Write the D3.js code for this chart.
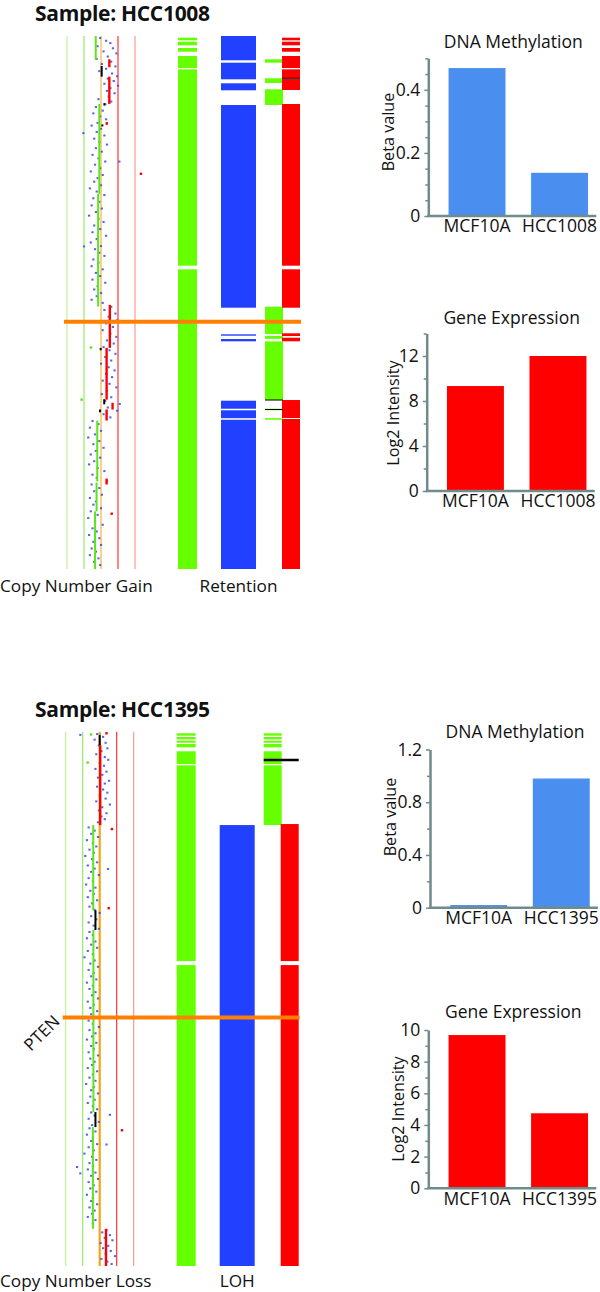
<!DOCTYPE html>
<html><head><meta charset="utf-8">
<script src="https://cdn.jsdelivr.net/npm/d3@7"></script>
<style>body{margin:0;background:#fff}svg{display:block}text{font-family:"Open Sans","Noto Sans",sans-serif;fill:#111}</style>
</head><body><svg id="c" width="600" height="1292"></svg>
<script>
// ---------------- DATA ----------------
const sampleNames = ["HCC1008", "HCC1395"];
const cnLevels = [0, 1, 2, 3, 4];
const chromLength = 135; // Mb (relative position along the chromosome)

// copy-number segments: [start, end, copyNumber, type]
const segs1008 = [
  [0, 6.1, 1.69, "loss"], [5.9, 7.9, 2.49, "gain"], [7.6, 10.3, 2.04, "neutral"],
  [10.3, 17.2, 2.49, "gain"], [17.0, 17.6, 2.2, "neutral"], [22.4, 22.9, 2.08, "neutral"],
  [21.8, 22.5, 2.34, "gain"], [17.2, 40, 1.9, "loss"], [40, 68.5, 1.83, "loss"],
  [68.1, 79.0, 2.52, "gain"], [79.0, 79.6, 1.98, "neutral"], [79.0, 92.1, 2.33, "gain"],
  [92.0, 93.3, 2.19, "neutral"], [92.9, 94.6, 2.68, "gain"], [94.6, 95.3, 1.94, "neutral"],
  [94.6, 97.4, 2.33, "gain"], [97.4, 112.8, 1.78, "loss"], [112.1, 113.6, 2.33, "gain"],
  [113.1, 120.4, 1.74, "loss"], [120.4, 135, 1.65, "loss"]
];
const segs1395 = [
  [0.8, 3.4, 2.0, "neutral"], [3.4, 23.6, 2.03, "gain"], [23.6, 45.1, 1.62, "loss"],
  [45.1, 50.1, 1.75, "neutral"], [50.1, 96.1, 1.63, "loss"], [96.1, 99.9, 1.75, "neutral"],
  [99.9, 125.6, 1.6, "loss"], [125.6, 135, 2.37, "gain"]
];

// probe-level copy-number dots: [position, copyNumber]
const dots1008 = [
  [0.5,1.95],[1.2,2.3],[1.8,2.55],[2.6,1.8],[3.1,2.7],[3.9,2.15],[4.4,2.9],[5.2,2.4],[5.8,1.75],[6.5,2.6],
  [7.1,2.05],[7.7,2.85],[8.3,2.3],[8.9,1.9],[9.5,2.65],[10.2,2.95],[10.8,2.4],[11.4,2.75],[12.1,2.2],[12.6,3.0],
  [13.2,2.55],[13.9,2.35],[14.5,2.8],[15.3,2.45],[16.0,1.85],[16.6,2.6],[17.3,2.25],
  [18.0,1.7],[18.9,2.1],[19.6,1.55],[20.4,1.95],[21.1,2.3],[22.0,1.8],[22.7,1.45],[23.5,2.0],[24.3,1.75],[25.2,2.2],
  [26.0,1.6],[26.8,1.9],[27.5,2.35],[28.4,1.7],[29.3,2.05],[30.1,1.5],[31.0,1.85],[31.8,2.25],[32.6,1.65],[33.5,1.95],
  [34.3,1.4],[35.2,2.1],[36.0,1.8],[36.9,1.6],[37.8,2.0],[38.6,1.35],[39.4,1.75],[40.3,2.2],[41.1,1.55],[42.0,1.9],
  [42.9,1.45],[43.7,2.05],[44.6,1.7],[45.5,1.3],[46.3,1.85],[47.1,2.15],[48.0,1.6],[48.9,1.95],[49.7,1.5],[50.6,2.3],
  [51.4,1.75],[52.3,1.4],[53.2,2.0],[54.0,1.65],[54.9,1.9],[55.7,2.2],[56.6,1.55],[57.4,1.85],[58.3,1.45],[59.1,2.1],
  [60.0,1.7],[60.8,1.95],[61.7,1.5],[62.5,2.25],[63.4,1.8],[64.2,1.6],[65.1,2.0],[65.9,1.75],[66.8,1.45],[67.6,2.1],
  [68.6,2.6],[69.4,2.2],[70.3,2.85],[71.1,2.45],[72.0,2.95],[72.8,2.3],[73.7,2.7],[74.5,2.1],[75.4,2.55],[76.2,2.9],
  [77.1,2.35],[77.9,2.75],[78.8,2.15],[79.6,2.5],[80.5,2.85],[81.3,2.25],[82.2,2.6],[83.0,2.0],[83.9,2.45],[84.7,2.8],
  [85.6,2.3],[86.4,2.65],[87.3,2.1],[88.1,2.5],[89.0,2.9],[89.8,2.35],[90.7,2.05],[91.5,2.6],[92.4,2.25],[93.2,3.1],
  [94.1,2.4],[94.9,2.95],[95.8,2.15],[96.6,2.55],
  [97.5,1.5],[98.3,1.85],[99.2,1.35],[100.0,2.0],[100.9,1.65],[101.7,1.25],[102.6,1.9],[103.4,1.55],[104.3,2.15],[105.1,1.7],
  [106.0,1.4],[106.8,1.95],[107.7,1.6],[108.5,1.3],[109.4,1.8],[110.2,2.2],[111.1,1.5],[111.9,1.75],[112.8,2.35],[113.6,1.45],
  [114.5,1.9],[115.3,1.6],[116.2,2.05],[117.0,1.35],[117.9,1.7],[118.7,1.55],[119.6,2.0],[120.4,1.4],[121.3,1.8],[122.1,1.25],
  [123.0,1.65],[123.8,2.1],[124.7,1.5],[125.5,1.75],[126.4,1.3],[127.2,1.9],[128.1,1.55],[128.9,2.0],[129.8,1.45],[130.6,1.7],
  [131.5,1.35],[132.3,1.85],[133.2,1.6],[134.0,1.95],
  [24.6,0.96],[53.3,1.0],[31.8,3.08]
];
const dots1395 = [
  [0.6,1.85],[1.3,2.2],[2.0,1.7],[2.8,2.35],[3.5,1.95],[4.2,2.45],[4.9,2.1],[5.7,1.8],[6.4,2.3],[7.1,2.5],
  [7.9,2.0],[8.6,2.25],[9.4,1.75],[10.1,2.4],[10.9,2.15],[11.6,1.9],[12.4,2.55],[13.1,2.3],[13.9,1.85],[14.6,2.2],
  [15.4,2.45],[16.1,2.0],[16.9,2.35],[17.6,1.8],[18.4,2.6],[19.1,2.15],[19.9,1.95],[20.6,2.4],[21.4,2.1],[22.1,2.3],[22.9,1.9],
  [24.2,1.35],[25.0,1.7],[25.8,1.5],[26.6,1.9],[27.4,1.25],[28.2,1.6],[29.0,1.8],[29.8,1.4],[30.6,1.65],[31.4,1.15],
  [32.2,1.55],[33.0,1.85],[33.8,1.3],[34.6,1.7],[35.4,1.5],[36.2,1.95],[37.0,1.35],[37.8,1.6],[38.6,1.2],[39.4,1.75],
  [40.2,1.45],[41.0,1.65],[41.8,1.3],[42.6,1.85],[43.4,1.55],[44.2,1.4],[45.0,1.7],[45.8,2.0],[46.6,1.5],[47.4,1.8],
  [48.2,1.35],[49.0,1.65],[49.8,1.95],[50.6,1.4],[51.4,1.6],[52.2,1.25],[53.0,1.75],[53.8,1.5],[54.6,1.85],[55.4,1.3],
  [56.2,1.6],[57.0,1.1],[57.8,1.7],[58.6,1.45],[59.4,1.9],[60.2,1.35],[61.0,1.65],[61.8,1.5],[62.6,1.8],[63.4,1.25],
  [64.2,1.6],[65.0,1.4],[65.8,1.75],[66.6,1.55],[67.4,1.9],[68.2,1.3],[69.0,1.65],[69.8,1.45],[70.6,1.85],[71.4,1.5],
  [72.2,1.7],[73.0,1.35],[73.8,1.6],[74.6,1.95],[75.4,1.4],[76.2,1.75],[77.0,1.55],[77.8,1.25],[78.6,1.8],[79.4,1.5],
  [80.2,1.65],[81.0,1.35],[81.8,1.9],[82.6,1.45],[83.4,1.7],[84.2,1.55],[85.0,1.3],[85.8,1.85],[86.6,1.6],[87.4,1.4],
  [88.2,1.75],[89.0,1.2],[89.8,1.65],[90.6,1.5],[91.4,1.9],[92.2,1.45],[93.0,1.7],[93.8,1.3],[94.6,1.6],[95.4,1.85],
  [96.2,1.5],[97.0,1.7],[97.8,1.35],[98.6,1.95],[99.4,1.55],[100.2,1.4],[101.0,1.75],[101.8,1.25],[102.6,1.6],[103.4,1.5],
  [104.2,1.85],[105.0,1.35],[105.8,1.65],[106.6,1.1],[107.4,1.55],[108.2,1.8],[109.0,1.4],[109.8,1.6],[110.6,1.3],[111.4,1.75],
  [112.2,1.5],[113.0,1.9],[113.8,1.35],[114.6,1.65],[115.4,1.45],[116.2,1.8],[117.0,1.25],[117.8,1.6],[118.6,1.5],[119.4,1.85],
  [120.2,1.4],[121.0,1.7],[121.8,1.55],[122.6,1.3],[123.4,1.75],[124.2,1.6],
  [125.9,2.4],[126.5,2.15],[127.2,2.6],[127.9,2.3],[128.5,2.75],[129.2,2.05],[129.9,2.5],[130.5,2.2],[131.2,2.65],[131.9,2.35],
  [132.5,2.9],[133.2,2.1],[133.9,2.45],[134.5,2.7],
  [0.8,0.86],[34.7,2.49],[96.8,2.6],[104.3,2.4],[110,0.67],[111.6,0.86]
];
// isolated coloured outlier probes: [position, copyNumber, type]
const outliers1008 = [[34.9, 4.35, "gain"], [121, 2.63, "gain"], [78.9, 1.41, "loss"], [92.1, 0.86, "loss"]];
const outliers1395 = [[0.4, 2.4, "gain"], [24.6, 2.72, "gain"], [44.6, 2.53, "gain"], [100.7, 3.31, "gain"], [0.7, 1.49, "loss"], [7.8, 1.29, "loss"]];

// status tracks: [start, end]
const lossTrack1008 = [[0.43,1.09],[1.44,2.36],[3.04,3.98],[5.07,8.11],[8.44,58.18],[59.09,135]];
const retainTrack1008 = [[0,6.15],[6.76,10.97],[11.98,13.75],[17.48,68.82],[75.56,75.91],[76.75,77.33],[92.37,94.4],[94.8,96.8],[97.2,135]];
const flagTrack1008 = [[5.9,6.76],[10.71,11.9],[13.5,17.48],[68.57,75.5],[75.95,76.7],[77.35,92.2],[94.4,94.8],[96.8,97.2]];
const gainTrack1008 = [[0.43,1.09],[1.44,2.36],[3.04,3.98],[5.07,8.11],[8.44,10.64],[10.89,13.68],[17.22,58.18],[59.09,68.82],[75.3,75.99],[76.42,77.33],[92.2,96.76],[97.01,135]];
const blackMarks1008 = [[10.71, "gain"], [92.2, "flag"], [94.6, "flag"]];

const lossTrack1395 = [[0.4,1.01],[1.34,1.92],[2.28,2.78],[3.11,3.95],[4.95,8.16],[8.49,57.96],[58.97,135]];
const retainTrack1395 = [[23.59,135]];
const flagTrack1395 = [[0.4,1.01],[1.34,1.92],[2.28,2.78],[3.11,3.95],[4.95,8.16],[8.49,23.59]];
const gainTrack1395 = [[23.33,57.96],[58.97,135]];
const blackMarks1395 = [[7.15, "flagToGain"]];

const markerPos1008 = 72.4, markerLabel1008 = "";
const markerPos1395 = 72.2, markerLabel1395 = "PTEN";

const trackLabels1008 = ["Copy Number Gain", "Retention"];
const trackLabels1395 = ["Copy Number Loss", "LOH"];

// bar charts
const barCats1008 = ["MCF10A", "HCC1008"];
const meth1008 = [0.469, 0.137];
const expr1008 = [9.33, 12.0];
const barCats1395 = ["MCF10A", "HCC1395"];
const meth1395 = [0.02, 0.98];
const expr1395 = [9.68, 4.74];

const methTicks1008 = [0, 0.2, 0.4], methMinor1008 = [0.05,0.1,0.15,0.25,0.3,0.35,0.45,0.5];
const exprTicks1008 = [0, 4, 8, 12], exprMinor1008 = [2, 6, 10, 14];
const methTicks1395 = [0, 0.4, 0.8, 1.2], methMinor1395 = [0.2, 0.6, 1.0];
const exprTicks1395 = [0, 2, 4, 6, 8, 10], exprMinor1395 = [1, 3, 5, 7, 9];

// ---------------- DRAW ----------------
const svg = d3.select("#c");
const C = {loss:"#5ee41a", gain:"#ff0000", neutral:"#000000",
  lossBar:"#66ff00", retain:"#2240ff", gainBar:"#ff0000", marker:"#ff8000",
  dot:"#2f4cf0", axis:"#718a8a", meth:"#4a8ff0", expr:"#ff0000"};
const levelColors = ["#b6f290","#8de85e","#f2a516","#ff2020","#ff8c8c"];

const panels = [
  {name:sampleNames[0], top:36, bottom:569, dx:0, titleY:20.5, labelY:591.5,
   segs:segs1008, dots:dots1008, outl:outliers1008, loss:lossTrack1008, retain:retainTrack1008,
   flag:flagTrack1008, gain:gainTrack1008, black:blackMarks1008, marker:markerPos1008,
   mlabel:markerLabel1008, labels:trackLabels1008, midW:1},
  {name:sampleNames[1], top:731.7, bottom:1266, dx:-1.3, titleY:716.7, labelY:1287,
   segs:segs1395, dots:dots1395, outl:outliers1395, loss:lossTrack1395, retain:retainTrack1395,
   flag:flagTrack1395, gain:gainTrack1395, black:blackMarks1395, marker:markerPos1395,
   mlabel:markerLabel1395, labels:trackLabels1395, midW:2.2}
];

panels.forEach(p => {
  const g = svg.append("g").attr("transform", `translate(${p.dx},0)`);
  const y = d3.scaleLinear().domain([0, chromLength]).range([p.top, p.bottom]);
  const x = d3.scaleLinear().domain([0, 4]).range([67, 135]);
  const cols = {loss:[178,197], retain:[221,256], flag:[265,283], gain:[282,300]};

  svg.append("text").attr("x", 35).attr("y", p.titleY)
    .attr("font-weight", 700).attr("font-size", 21).attr("letter-spacing", -0.3).text("Sample: " + p.name);

  // CN reference lines
  g.selectAll(".lvl").data(cnLevels).join("line")
    .attr("x1", d => x(d)).attr("x2", d => x(d)).attr("y1", y(0)).attr("y2", y(chromLength))
    .attr("stroke", (d, i) => levelColors[i]).attr("stroke-width", d => d === 2 ? p.midW : 1.1);

  // probe dots
  g.selectAll(".dot").data(p.dots).join("rect")
    .attr("x", d => x(d[1]) - 1.1).attr("y", d => y(d[0]) - 1)
    .attr("width", 2.2).attr("height", 2).attr("fill", C.dot).attr("opacity", 0.85);
  g.selectAll(".out").data(p.outl).join("rect")
    .attr("x", d => x(d[1]) - 1.2).attr("y", d => y(d[0]) - 1.2)
    .attr("width", 2.4).attr("height", 2.4).attr("fill", d => C[d[2]]);

  // segments
  g.selectAll(".seg").data(p.segs).join("line")
    .attr("x1", d => x(d[2])).attr("x2", d => x(d[2]))
    .attr("y1", d => y(d[0])).attr("y2", d => y(d[1]))
    .attr("stroke", d => C[d[3]]).attr("stroke-width", d => d[3] === "gain" ? 2.4 : 2);

  // status tracks
  const track = (data, col, color) => g.append("g").selectAll("rect").data(data).join("rect")
    .attr("x", cols[col][0]).attr("width", cols[col][1] - cols[col][0])
    .attr("y", d => y(d[0])).attr("height", d => Math.max(0.8, y(d[1]) - y(d[0])))
    .attr("fill", color);
  track(p.loss, "loss", C.lossBar);
  track(p.retain, "retain", C.retain);
  track(p.flag, "flag", C.lossBar);
  track(p.gain, "gain", C.gainBar);

  g.selectAll(".blk").data(p.black).join("line")
    .attr("x1", d => d[1] === "gain" ? cols.gain[0] : cols.flag[0])
    .attr("x2", d => d[1] === "flag" ? cols.flag[1] : cols.gain[1])
    .attr("y1", d => y(d[0])).attr("y2", d => y(d[0]))
    .attr("stroke", "#000").attr("stroke-width", d => d[1] === "flagToGain" ? 2.6 : 1);

  // marker line
  g.append("line").attr("x1", x(0) - 3).attr("x2", cols.gain[1] + 1)
    .attr("y1", y(p.marker)).attr("y2", y(p.marker))
    .attr("stroke", C.marker).attr("stroke-width", 4);
  if (p.mlabel) {
    g.append("text").attr("transform", `translate(${x(0) - 5},${y(p.marker) + 5}) rotate(-45)`)
      .attr("text-anchor", "end").attr("font-size", 17).text(p.mlabel);
  }

  // track labels
  svg.append("text").attr("x", 0).attr("y", p.labelY).attr("font-size", 17.2).text(p.labels[0]);
  svg.append("text").attr("x", (cols.retain[0] + cols.retain[1]) / 2 + p.dx).attr("y", p.labelY)
    .attr("text-anchor", "middle").attr("font-size", 17.2).text(p.labels[1]);
});

// bar charts
function barChart(cfg) {
  const g = svg.append("g");
  const y = d3.scaleLinear().domain(cfg.domain).range([cfg.y0, cfg.y1]);
  const x = d3.scaleBand().domain(cfg.cats).range([cfg.ax + 12, cfg.ax + 168])
    .paddingInner(0.31).paddingOuter(0.1);
  g.selectAll(".bar").data(cfg.vals).join("rect")
    .attr("x", (d, i) => x(cfg.cats[i])).attr("width", x.bandwidth())
    .attr("y", d => y(d)).attr("height", d => y(0) - y(d)).attr("fill", cfg.color);

  const ya = g.append("g").attr("transform", `translate(${cfg.ax},0)`)
    .call(d3.axisLeft(y).tickValues(cfg.major).tickSize(4).tickSizeOuter(0).tickPadding(4)
      .tickFormat(cfg.fmt));
  ya.select(".domain").attr("stroke", C.axis).attr("stroke-width", 2.5);
  ya.selectAll(".tick line").attr("stroke", C.axis).attr("stroke-width", 1.5);
  ya.selectAll(".tick text").attr("font-size", 17.5).attr("font-family", '"Open Sans",sans-serif').attr("fill", "#111");
  const ym = g.append("g").attr("transform", `translate(${cfg.ax},0)`)
    .call(d3.axisLeft(y).tickValues(cfg.minor).tickSize(3).tickFormat(""));
  ym.select(".domain").remove();
  ym.selectAll(".tick line").attr("stroke", C.axis).attr("stroke-width", 1.5);

  g.append("line").attr("x1", cfg.ax - 1).attr("x2", cfg.ax + 168).attr("y1", y(0)).attr("y2", y(0))
    .attr("stroke", C.axis).attr("stroke-width", 2.5);
  const xa = g.append("g").attr("transform", `translate(0,${y(0)})`)
    .call(d3.axisBottom(x).tickSize(0).tickPadding(4));
  xa.select(".domain").remove();
  xa.selectAll(".tick text").attr("font-size", 17.5).attr("font-family", '"Open Sans",sans-serif').attr("fill", "#111");

  g.append("text").attr("x", cfg.ax + 85).attr("y", cfg.titleY).attr("text-anchor", "middle")
    .attr("font-size", 17.5).text(cfg.title);
  g.append("text").attr("transform", `translate(${cfg.ylx},${cfg.ylc}) rotate(-90)`)
    .attr("text-anchor", "middle").attr("font-size", 16.2).text(cfg.ylab);
}
const fmtDec = d => d === 0 ? "0" : d3.format(".1f")(d);
const fmtInt = d3.format("d");
barChart({cats:barCats1008, vals:meth1008, color:C.meth, domain:[0,0.5], major:methTicks1008, minor:methMinor1008,
  fmt:fmtDec, ax:428.3, y0:216, y1:58.3, title:"DNA Methylation", titleY:48.3, ylab:"Beta value", ylx:394, ylc:132});
barChart({cats:barCats1008, vals:expr1008, color:C.expr, domain:[0,14], major:exprTicks1008, minor:exprMinor1008,
  fmt:fmtInt, ax:426.7, y0:491, y1:333.5, title:"Gene Expression", titleY:324, ylab:"Log2 Intensity", ylx:399, ylc:413});
barChart({cats:barCats1395, vals:meth1395, color:C.meth, domain:[0,1.2], major:methTicks1395, minor:methMinor1395,
  fmt:fmtDec, ax:430, y0:907.7, y1:749.5, title:"DNA Methylation", titleY:738.3, ylab:"Beta value", ylx:396, ylc:817});
barChart({cats:barCats1395, vals:expr1395, color:C.expr, domain:[0,10], major:exprTicks1395, minor:exprMinor1395,
  fmt:fmtInt, ax:428.3, y0:1188.3, y1:1030, title:"Gene Expression", titleY:1018.3, ylab:"Log2 Intensity", ylx:404, ylc:1109});
</script></body></html>
